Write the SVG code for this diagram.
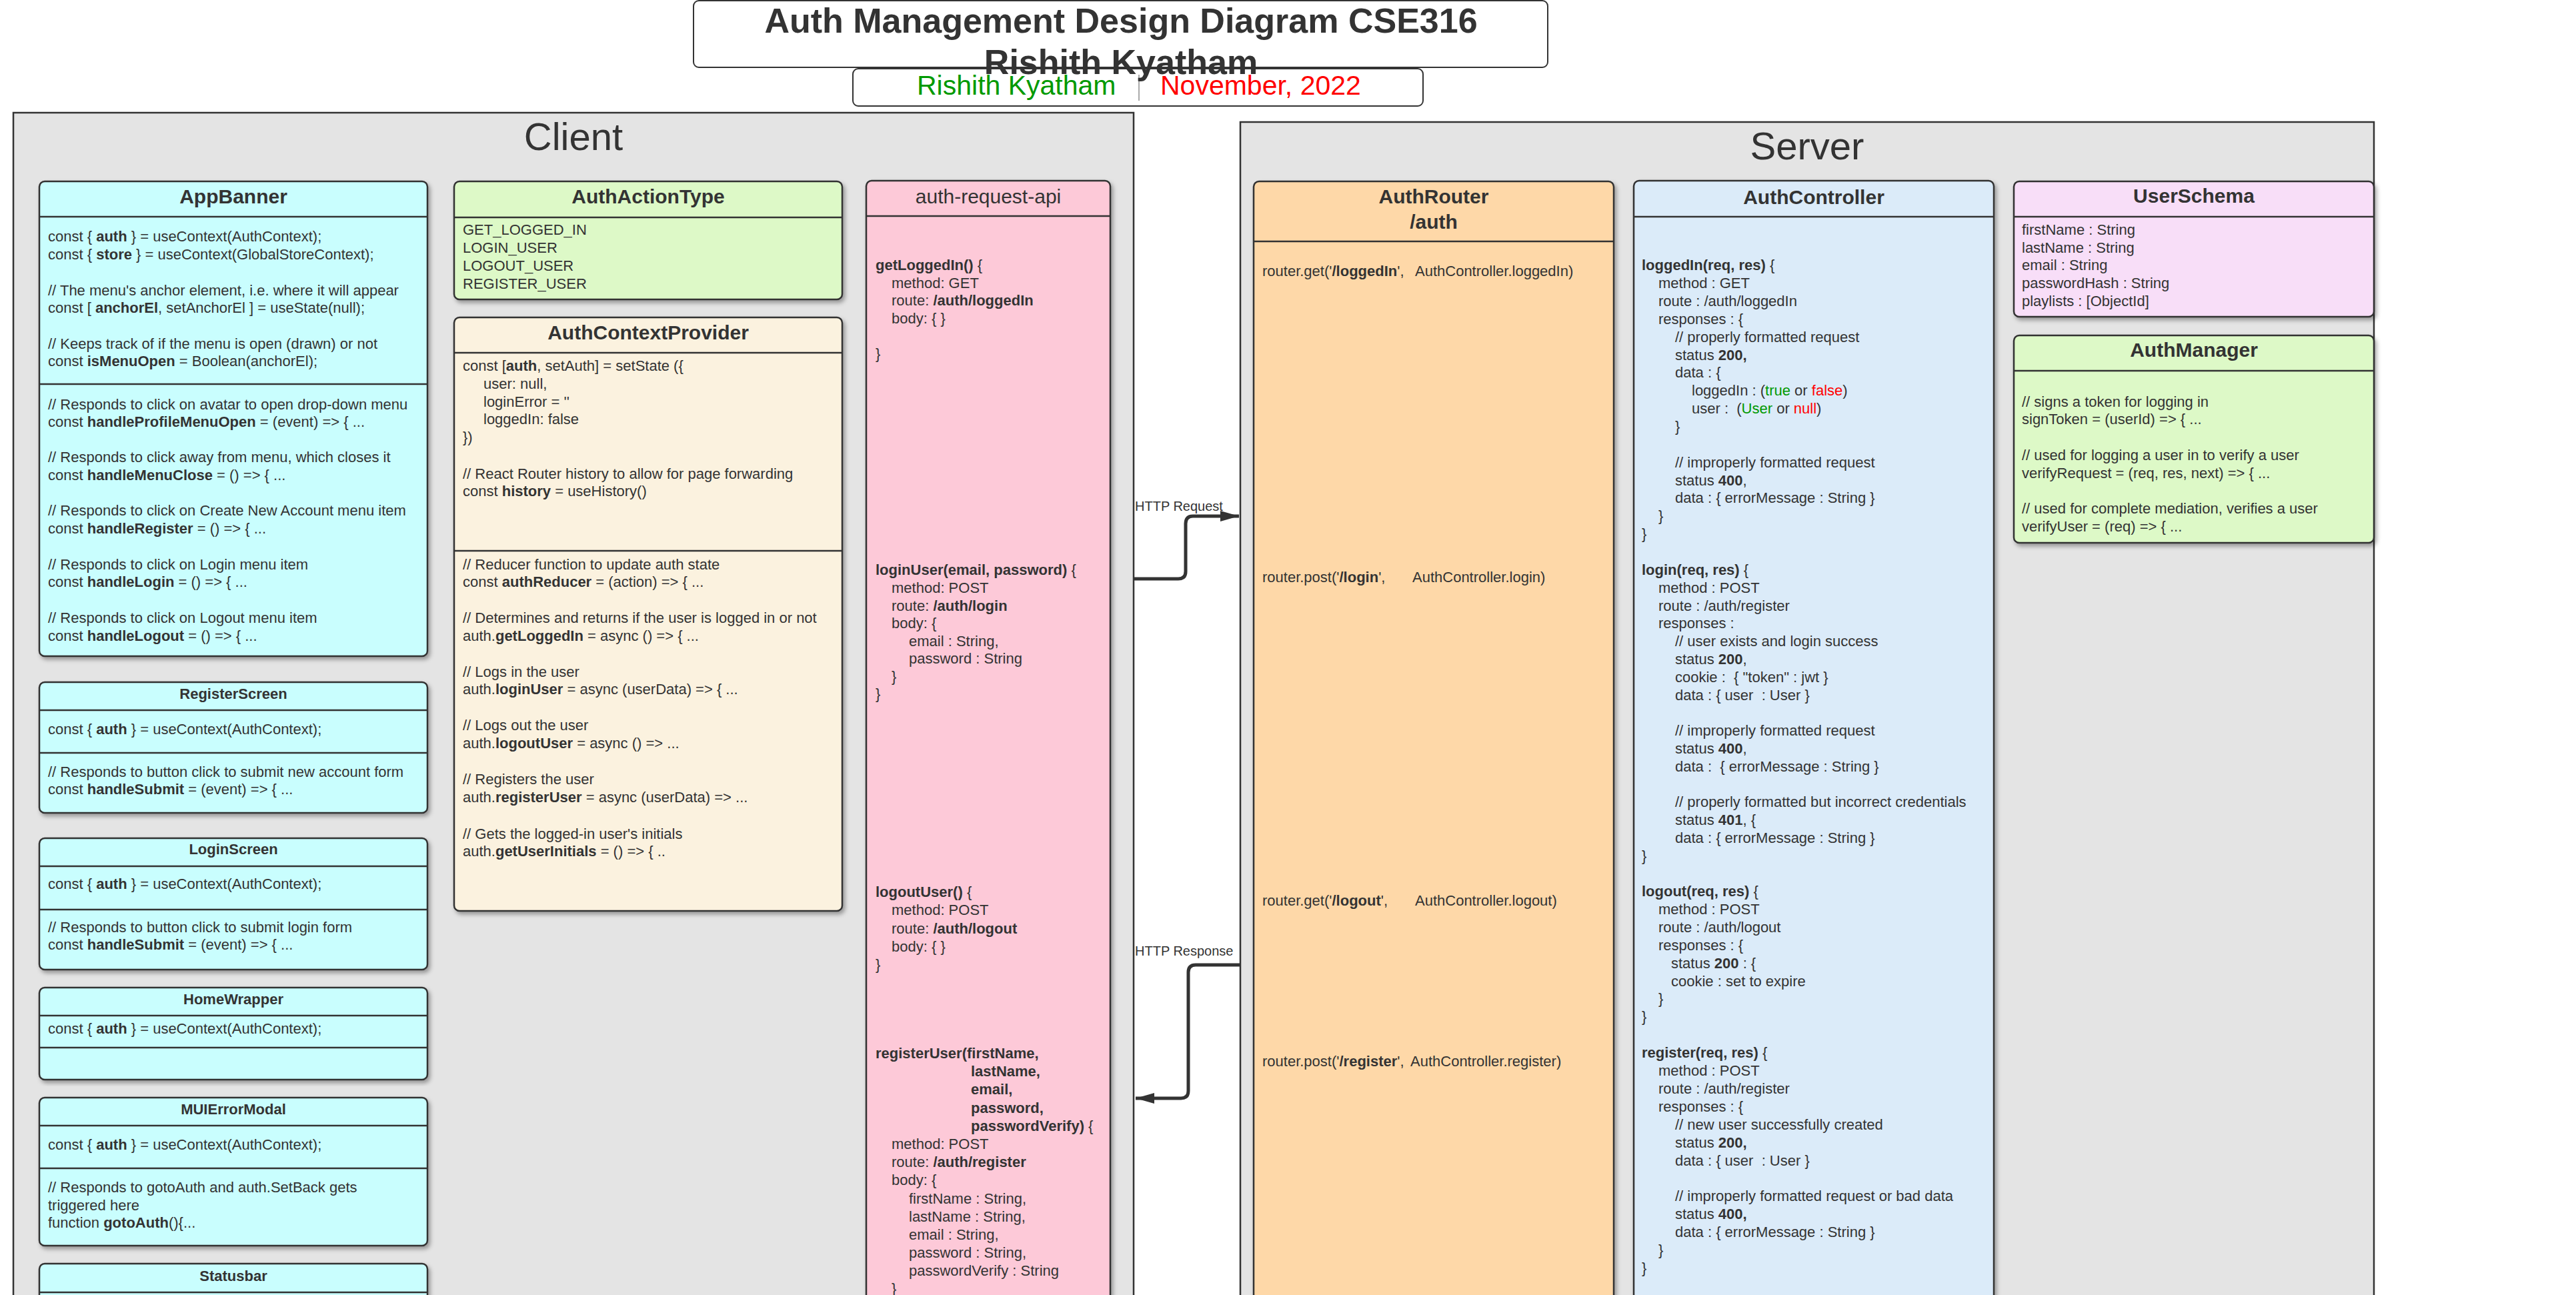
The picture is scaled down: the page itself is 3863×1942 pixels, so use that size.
<svg xmlns="http://www.w3.org/2000/svg" width="3863" height="1942" viewBox="0 0 3863 1942">
<style>
text{font-family:"Liberation Sans",Arial,sans-serif;fill:#333;font-size:22px}
.b{font-weight:bold}
.h{font-size:30px;font-weight:bold;text-anchor:middle}
.hs{font-size:22px;font-weight:bold;text-anchor:middle}
.hr{font-size:30px;text-anchor:middle}
.box{stroke:#333;stroke-width:2.5;filter:url(#sh)}
.dv{stroke:#333;stroke-width:2.5}
.frame{fill:#e4e4e4;stroke:#333;stroke-width:2.5}
.g{fill:#009900}
.r{fill:#ff0000}
.conn{fill:none;stroke:#333;stroke-width:5}
.lbl{font-size:20px}
</style>
<defs>
<filter id="sh" x="-5%" y="-5%" width="112%" height="112%"><feDropShadow dx="3" dy="4" stdDeviation="3" flood-color="#000" flood-opacity="0.35"/></filter>
<marker id="ah" markerUnits="userSpaceOnUse" markerWidth="30" markerHeight="18" refX="28" refY="9" orient="auto"><path d="M0,1 L28,9 L0,17 z" fill="#333"/></marker>
</defs>
<rect width="3863" height="1942" fill="#ffffff"/>

<g id="title">
<rect x="1040" y="1" width="1281" height="100" rx="8" fill="#fff" stroke="#333" stroke-width="2"/>
<rect x="1279" y="103" width="855" height="56" rx="8" fill="#fff" stroke="#333" stroke-width="2"/>
<line x1="1708" y1="112" x2="1708" y2="151" stroke="#aaa" stroke-width="2"/>
<text x="1375" y="142" style="font-size:41px" class="g">Rishith Kyatham</text>
<text x="1740" y="142" style="font-size:41px" class="r">November, 2022</text>
<text x="1681" y="49" style="font-size:52px;font-weight:bold;text-anchor:middle">Auth Management Design Diagram CSE316</text>
<text x="1681" y="111" style="font-size:52px;font-weight:bold;text-anchor:middle">Rishith Kyatham</text>
</g>

<g id="client">
<rect class="frame" x="20" y="169" width="1680" height="1820"/>
<text x="860" y="225" style="font-size:58px;text-anchor:middle">Client</text>
</g>
<g id="server">
<rect class="frame" x="1860" y="183" width="1700" height="1820"/>
<text x="2710" y="239" style="font-size:58px;text-anchor:middle">Server</text>
</g>

<g id="AppBanner">
<rect class="box" x="59" y="272" width="582" height="712" rx="8" fill="#c9fefe"/>
<line class="dv" x1="59" y1="325" x2="641" y2="325"/>
<line class="dv" x1="59" y1="576" x2="641" y2="576"/>
<text class="h" x="350" y="305">AppBanner</text>
<text x="72" y="362">const { <tspan class="b">auth</tspan> } = useContext(AuthContext);</text>
<text x="72" y="389">const { <tspan class="b">store</tspan> } = useContext(GlobalStoreContext);</text>
<text x="72" y="443">// The menu's anchor element, i.e. where it will appear</text>
<text x="72" y="469">const [ <tspan class="b">anchorEl</tspan>, setAnchorEl ] = useState(null);</text>
<text x="72" y="523">// Keeps track of if the menu is open (drawn) or not</text>
<text x="72" y="549">const <tspan class="b">isMenuOpen</tspan> = Boolean(anchorEl);</text>
<text x="72" y="614">// Responds to click on avatar to open drop-down menu</text>
<text x="72" y="640">const <tspan class="b">handleProfileMenuOpen</tspan> = (event) =&gt; { ...</text>
<text x="72" y="693">// Responds to click away from menu, which closes it</text>
<text x="72" y="720">const <tspan class="b">handleMenuClose</tspan> = () =&gt; { ...</text>
<text x="72" y="773">// Responds to click on Create New Account menu item</text>
<text x="72" y="800">const <tspan class="b">handleRegister</tspan> = () =&gt; { ...</text>
<text x="72" y="854">// Responds to click on Login menu item</text>
<text x="72" y="880">const <tspan class="b">handleLogin</tspan> = () =&gt; { ...</text>
<text x="72" y="934">// Responds to click on Logout menu item</text>
<text x="72" y="961">const <tspan class="b">handleLogout</tspan> = () =&gt; { ...</text>
</g>

<g id="RegisterScreen">
<rect class="box" x="59" y="1023" width="582" height="196" rx="8" fill="#c9fefe"/>
<line class="dv" x1="59" y1="1065" x2="641" y2="1065"/>
<line class="dv" x1="59" y1="1129" x2="641" y2="1129"/>
<text class="hs" x="350" y="1048">RegisterScreen</text>
<text x="72" y="1101">const { <tspan class="b">auth</tspan> } = useContext(AuthContext);</text>
<text x="72" y="1165">// Responds to button click to submit new account form</text>
<text x="72" y="1191">const <tspan class="b">handleSubmit</tspan> = (event) =&gt; { ...</text>
</g>

<g id="LoginScreen">
<rect class="box" x="59" y="1257" width="582" height="197" rx="8" fill="#c9fefe"/>
<line class="dv" x1="59" y1="1299" x2="641" y2="1299"/>
<line class="dv" x1="59" y1="1364" x2="641" y2="1364"/>
<text class="hs" x="350" y="1281">LoginScreen</text>
<text x="72" y="1333">const { <tspan class="b">auth</tspan> } = useContext(AuthContext);</text>
<text x="72" y="1398">// Responds to button click to submit login form</text>
<text x="72" y="1424">const <tspan class="b">handleSubmit</tspan> = (event) =&gt; { ...</text>
</g>

<g id="HomeWrapper">
<rect class="box" x="59" y="1481" width="582" height="138" rx="8" fill="#c9fefe"/>
<line class="dv" x1="59" y1="1523" x2="641" y2="1523"/>
<line class="dv" x1="59" y1="1571" x2="641" y2="1571"/>
<text class="hs" x="350" y="1506">HomeWrapper</text>
<text x="72" y="1550">const { <tspan class="b">auth</tspan> } = useContext(AuthContext);</text>
</g>

<g id="MUIErrorModal">
<rect class="box" x="59" y="1646" width="582" height="222" rx="8" fill="#c9fefe"/>
<line class="dv" x1="59" y1="1688" x2="641" y2="1688"/>
<line class="dv" x1="59" y1="1752" x2="641" y2="1752"/>
<text class="hs" x="350" y="1671">MUIErrorModal</text>
<text x="72" y="1724">const { <tspan class="b">auth</tspan> } = useContext(AuthContext);</text>
<text x="72" y="1788">// Responds to gotoAuth and auth.SetBack gets</text>
<text x="72" y="1815">triggered here</text>
<text x="72" y="1841">function <tspan class="b">gotoAuth</tspan>(){...</text>
</g>

<g id="Statusbar">
<rect class="box" x="59" y="1895" width="582" height="120" rx="8" fill="#c9fefe"/>
<line class="dv" x1="59" y1="1938" x2="641" y2="1938"/>
<text class="hs" x="350" y="1921">Statusbar</text>
</g>

<g id="AuthActionType">
<rect class="box" x="681" y="272" width="582" height="177" rx="8" fill="#ddf9c7"/>
<line class="dv" x1="681" y1="326" x2="1263" y2="326"/>
<text class="h" x="972" y="305">AuthActionType</text>
<text x="694" y="352">GET_LOGGED_IN</text>
<text x="694" y="379">LOGIN_USER</text>
<text x="694" y="406">LOGOUT_USER</text>
<text x="694" y="433">REGISTER_USER</text>
</g>

<g id="AuthContextProvider">
<rect class="box" x="681" y="476" width="582" height="890" rx="8" fill="#fbf2df"/>
<line class="dv" x1="681" y1="529" x2="1263" y2="529"/>
<line class="dv" x1="681" y1="826" x2="1263" y2="826"/>
<text class="h" x="972" y="509">AuthContextProvider</text>
<text x="694" y="556">const [<tspan class="b">auth</tspan>, setAuth] = setState ({</text>
<text x="725" y="583">user: null,</text>
<text x="725" y="610">loginError = ''</text>
<text x="725" y="636">loggedIn: false</text>
<text x="694" y="663">})</text>
<text x="694" y="718">// React Router history to allow for page forwarding</text>
<text x="694" y="744">const <tspan class="b">history</tspan> = useHistory()</text>
<text x="694" y="854">// Reducer function to update auth state</text>
<text x="694" y="880">const <tspan class="b">authReducer</tspan> = (action) =&gt; { ...</text>
<text x="694" y="934">// Determines and returns if the user is logged in or not</text>
<text x="694" y="961">auth.<tspan class="b">getLoggedIn</tspan> = async () =&gt; { ...</text>
<text x="694" y="1015">// Logs in the user</text>
<text x="694" y="1041">auth.<tspan class="b">loginUser</tspan> = async (userData) =&gt; { ...</text>
<text x="694" y="1095">// Logs out the user</text>
<text x="694" y="1122">auth.<tspan class="b">logoutUser</tspan> = async () =&gt; ...</text>
<text x="694" y="1176">// Registers the user</text>
<text x="694" y="1203">auth.<tspan class="b">registerUser</tspan> = async (userData) =&gt; ...</text>
<text x="694" y="1258">// Gets the logged-in user's initials</text>
<text x="694" y="1284">auth.<tspan class="b">getUserInitials</tspan> = () =&gt; { ..</text>
</g>

<g id="auth-request-api">
<rect class="box" x="1299" y="271" width="366" height="1760" rx="8" fill="#fdc9d8"/>
<line class="dv" x1="1299" y1="324" x2="1665" y2="324"/>
<text class="hr" x="1482" y="305">auth-request-api</text>
<text x="1313" y="405"><tspan class="b">getLoggedIn()</tspan> {</text>
<text x="1337" y="432">method: GET</text>
<text x="1337" y="458">route: <tspan class="b">/auth/loggedIn</tspan></text>
<text x="1337" y="485">body: { }</text>
<text x="1313" y="538">}</text>
<text x="1313" y="862"><tspan class="b">loginUser(email, password)</tspan> {</text>
<text x="1337" y="889">method: POST</text>
<text x="1337" y="916">route: <tspan class="b">/auth/login</tspan></text>
<text x="1337" y="942">body: {</text>
<text x="1363" y="969">email : String,</text>
<text x="1363" y="995">password : String</text>
<text x="1337" y="1022">}</text>
<text x="1313" y="1048">}</text>
<text x="1313" y="1345"><tspan class="b">logoutUser()</tspan> {</text>
<text x="1337" y="1372">method: POST</text>
<text x="1337" y="1400">route: <tspan class="b">/auth/logout</tspan></text>
<text x="1337" y="1427">body: { }</text>
<text x="1313" y="1454">}</text>
<text x="1313" y="1587" class="b">registerUser(firstName,</text>
<text x="1456" y="1614" class="b">lastName,</text>
<text x="1456" y="1641" class="b">email,</text>
<text x="1456" y="1669" class="b">password,</text>
<text x="1456" y="1696"><tspan class="b">passwordVerify)</tspan> {</text>
<text x="1337" y="1723">method: POST</text>
<text x="1337" y="1750">route: <tspan class="b">/auth/register</tspan></text>
<text x="1337" y="1777">body: {</text>
<text x="1363" y="1805">firstName : String,</text>
<text x="1363" y="1832">lastName : String,</text>
<text x="1363" y="1859">email : String,</text>
<text x="1363" y="1886">password : String,</text>
<text x="1363" y="1913">passwordVerify : String</text>
<text x="1337" y="1940">}</text>
</g>

<g id="AuthRouter">
<rect class="box" x="1880" y="272" width="540" height="1760" rx="8" fill="#fed8a8"/>
<line class="dv" x1="1880" y1="362" x2="2420" y2="362"/>
<text class="h" x="2150" y="305">AuthRouter</text>
<text class="h" x="2150" y="343">/auth</text>
<text x="1893" y="414">router.get('<tspan class="b">/loggedIn</tspan>',<tspan x="2122">AuthController.loggedIn)</tspan></text>
<text x="1893" y="873">router.post('<tspan class="b">/login</tspan>',<tspan x="2118">AuthController.login)</tspan></text>
<text x="1893" y="1358">router.get('<tspan class="b">/logout</tspan>',<tspan x="2122">AuthController.logout)</tspan></text>
<text x="1893" y="1599">router.post('<tspan class="b">/register</tspan>',<tspan x="2115">AuthController.register)</tspan></text>
</g>

<g id="AuthController">
<rect class="box" x="2450" y="271" width="540" height="1760" rx="8" fill="#dbebf9"/>
<line class="dv" x1="2450" y1="325" x2="2990" y2="325"/>
<text class="h" x="2720" y="306">AuthController</text>
<text x="2462" y="405"><tspan class="b">loggedIn(req, res)</tspan> {</text>
<text x="2487" y="432">method : GET</text>
<text x="2487" y="459">route : /auth/loggedIn</text>
<text x="2487" y="486">responses : {</text>
<text x="2512" y="513">// properly formatted request</text>
<text x="2512" y="540">status <tspan class="b">200,</tspan></text>
<text x="2512" y="566">data : {</text>
<text x="2537" y="593">loggedIn : (<tspan class="g">true</tspan> or <tspan class="r">false</tspan>)</text>
<text x="2537" y="620" xml:space="preserve">user :  (<tspan class="g">User</tspan> or <tspan class="r">null</tspan>)</text>
<text x="2512" y="647">}</text>
<text x="2512" y="701">// improperly formatted request</text>
<text x="2512" y="728">status <tspan class="b">400</tspan>,</text>
<text x="2512" y="754">data : { errorMessage : String }</text>
<text x="2487" y="781">}</text>
<text x="2462" y="808">}</text>
<text x="2462" y="862"><tspan class="b">login(req, res)</tspan> {</text>
<text x="2487" y="889">method : POST</text>
<text x="2487" y="916">route : /auth/register</text>
<text x="2487" y="942">responses :</text>
<text x="2512" y="969">// user exists and login success</text>
<text x="2512" y="996">status <tspan class="b">200</tspan>,</text>
<text x="2512" y="1023" xml:space="preserve">cookie :  { "token" : jwt }</text>
<text x="2512" y="1050" xml:space="preserve">data : { user  : User }</text>
<text x="2512" y="1103">// improperly formatted request</text>
<text x="2512" y="1130">status <tspan class="b">400</tspan>,</text>
<text x="2512" y="1157" xml:space="preserve">data :  { errorMessage : String }</text>
<text x="2512" y="1210">// properly formatted but incorrect credentials</text>
<text x="2512" y="1237">status <tspan class="b">401</tspan>, {</text>
<text x="2512" y="1264">data : { errorMessage : String }</text>
<text x="2462" y="1291">}</text>
<text x="2462" y="1344"><tspan class="b">logout(req, res)</tspan> {</text>
<text x="2487" y="1371">method : POST</text>
<text x="2487" y="1398">route : /auth/logout</text>
<text x="2487" y="1425">responses : {</text>
<text x="2506" y="1452">status <tspan class="b">200</tspan> : {</text>
<text x="2506" y="1479">cookie : set to expire</text>
<text x="2487" y="1505">}</text>
<text x="2462" y="1532">}</text>
<text x="2462" y="1586"><tspan class="b">register(req, res)</tspan> {</text>
<text x="2487" y="1613">method : POST</text>
<text x="2487" y="1640">route : /auth/register</text>
<text x="2487" y="1667">responses : {</text>
<text x="2512" y="1694">// new user successfully created</text>
<text x="2512" y="1721">status <tspan class="b">200,</tspan></text>
<text x="2512" y="1748" xml:space="preserve">data : { user  : User }</text>
<text x="2512" y="1801">// improperly formatted request or bad data</text>
<text x="2512" y="1828">status <tspan class="b">400,</tspan></text>
<text x="2512" y="1855">data : { errorMessage : String }</text>
<text x="2487" y="1882">}</text>
<text x="2462" y="1909">}</text>
</g>

<g id="UserSchema">
<rect class="box" x="3020" y="272" width="540" height="203" rx="8" fill="#f8def8"/>
<line class="dv" x1="3020" y1="325" x2="3560" y2="325"/>
<text class="h" x="3290" y="304">UserSchema</text>
<text x="3032" y="352">firstName : String</text>
<text x="3032" y="379">lastName : String</text>
<text x="3032" y="405">email : String</text>
<text x="3032" y="432">passwordHash : String</text>
<text x="3032" y="459">playlists : [ObjectId]</text>
</g>

<g id="AuthManager">
<rect class="box" x="3020" y="503" width="540" height="311" rx="8" fill="#ddf9c7"/>
<line class="dv" x1="3020" y1="556" x2="3560" y2="556"/>
<text class="h" x="3290" y="535">AuthManager</text>
<text x="3032" y="610">// signs a token for logging in</text>
<text x="3032" y="636">signToken = (userId) =&gt; { ...</text>
<text x="3032" y="690">// used for logging a user in to verify a user</text>
<text x="3032" y="717">verifyRequest = (req, res, next) =&gt; { ...</text>
<text x="3032" y="770">// used for complete mediation, verifies a user</text>
<text x="3032" y="797">verifyUser = (req) =&gt; { ...</text>
</g>

<g id="connectors">
<path class="conn" d="M1701,868 H1767 Q1778,868 1778,857 V785 Q1778,774 1789,774 H1858" marker-end="url(#ah)"/>
<text class="lbl" x="1702" y="766">HTTP Request</text>
<path class="conn" d="M1860,1447 H1793 Q1782,1447 1782,1458 V1636 Q1782,1647 1771,1647 H1703" marker-end="url(#ah)"/>
<text class="lbl" x="1702" y="1433">HTTP Response</text>
</g>
</svg>
